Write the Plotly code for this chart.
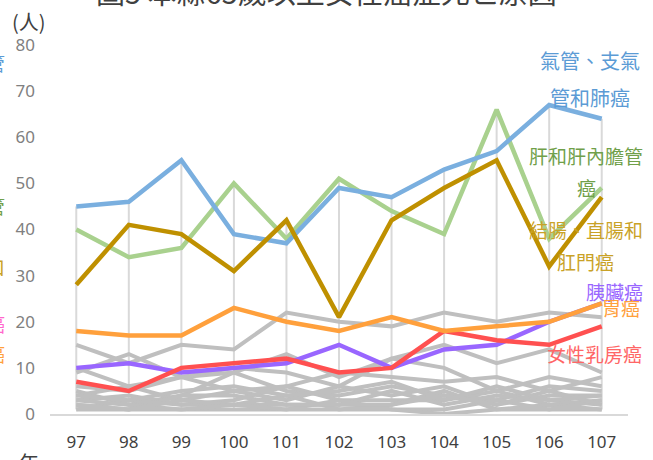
import plotly.graph_objects as go

years = [97, 98, 99, 100, 101, 102, 103, 104, 105, 106, 107]
year_labels = [str(y) for y in years]

lung = [45, 46, 55, 39, 37, 49, 47, 53, 57, 67, 64]
liver = [40, 34, 36, 50, 38, 51, 44, 39, 66, 38, 49]
colorectal = [28, 41, 39, 31, 42, 21, 42, 49, 55, 32, 47]
stomach = [18, 17, 17, 23, 20, 18, 21, 18, 19, 20, 24]
pancreas = [10, 11, 9, 10, 11, 15, 10, 14, 15, 20, 24]
breast = [7, 5, 10, 11, 12, 9, 10, 18, 16, 15, 19]

others = [
    [15, 11, 15, 14, 22, 20, 19, 22, 20, 22, 21],
    [9, 13, 8, 9, 13, 8, 12, 15, 11, 14, 9],
    [10, 6, 8, 10, 9, 6, 12, 10, 5, 8, 6],
    [6, 5, 8, 5, 6, 9, 8, 7, 8, 5, 8],
    [5, 2, 4, 9, 5, 4, 6, 4, 3, 6, 5],
    [4, 6, 3, 5, 3, 6, 4, 6, 2, 4, 4],
    [3, 4, 2, 3, 6, 3, 3, 3, 5, 2, 3],
    [2, 1, 4, 4, 2, 2, 5, 2, 4, 3, 2],
    [1, 3, 2, 2, 4, 1, 2, 5, 1, 2, 1],
    [3, 2, 1, 1, 1, 3, 1, 1, 3, 1, 3],
    [2, 1, 3, 2, 2, 2, 2, 4, 2, 5, 2],
    [1, 1, 1, 2, 1, 1, 1, 0, 1, 1, 1],
    [4, 3, 5, 6, 4, 5, 7, 3, 6, 3, 4],
]

title_text = "圖5 本縣65歲以上女性癌症死亡原因"
y_title = "(人)"
x_title = "年"

main = [
    ("胰臟癌", pancreas, "#9966FF"),
    ("女性乳房癌", breast, "#FF5050"),
    ("胃癌", stomach, "#FFA03C"),
    ("肝和肝內膽管癌", liver, "#A9D18E"),
    ("氣管、支氣管和肺癌", lung, "#7AAFDF"),
    ("結腸、直腸和肛門癌", colorectal, "#BF9000"),
]

W, H = 653, 460
ML, MR, MT, MB = 50, 25, 45, 46
PW = W - ML - MR
PH = H - MT - MB


def px(x):
    return (x - ML) / PW


def py(y):
    return (H - MB - y) / PH


fig = go.Figure()

# high-low (drop) lines across all series
all_series = others + [s for _, s, _ in main]
hx, hy = [], []
for i, yr in enumerate(years):
    vals = [s[i] for s in all_series]
    hx += [yr, yr, None]
    hy += [min(vals), max(vals), None]
fig.add_trace(go.Scatter(x=hx, y=hy, mode="lines", line=dict(color="#D9D9D9", width=2),
                         hoverinfo="skip", showlegend=False))

for s in others:
    fig.add_trace(go.Scatter(x=years, y=s, mode="lines", line=dict(color="#BFBFBF", width=4),
                             showlegend=False))

for name, s, c in main:
    fig.add_trace(go.Scatter(x=years, y=s, mode="lines", name=name, line=dict(color=c, width=4.5),
                             showlegend=False))

cjk = "Noto Sans CJK TC"
labels = [
    ("氣管、支氣", 590, 60, "#5B9BD5", 20),
    ("管和肺癌", 590, 97, "#5B9BD5", 20),
    ("肝和肝內膽管", 586, 155, "#70A04A", 19),
    ("癌", 586, 187, "#70A04A", 19),
    ("結腸、直腸和", 586, 229, "#C9A227", 19),
    ("肛門癌", 585, 261, "#C9A227", 19),
    ("胰臟癌", 614, 291, "#9966FF", 19),
    ("胃癌", 621, 307, "#FFA03C", 19),
    ("女性乳房癌", 594, 353, "#FF6666", 19),
]
for t, x, y, c, s in labels:
    fig.add_annotation(text=t, x=px(x), y=py(y), xref="paper", yref="paper", showarrow=False,
                       xanchor="center", yanchor="middle", font=dict(family=cjk, size=s, color=c))

# cut-off labels at left edge
left_frags = [
    ("管", 62, "#5B9BD5"),
    ("管", 205, "#70A04A"),
    ("口", 266, "#C9A227"),
    ("癌", 323, "#FF66CC"),
    ("癌", 353, "#FFA03C"),
]
for t, y, c in left_frags:
    fig.add_annotation(text=t, x=px(7), y=py(y), xref="paper", yref="paper", showarrow=False,
                       xanchor="right", yanchor="middle", font=dict(family=cjk, size=19, color=c))

fig.add_annotation(text=title_text, x=px(326), y=py(-9), xref="paper", yref="paper", showarrow=False,
                   xanchor="center", yanchor="middle", font=dict(family=cjk, size=29, color="#404040"))
fig.add_annotation(text=y_title, x=px(29), y=py(21), xref="paper", yref="paper", showarrow=False,
                   xanchor="center", yanchor="middle", font=dict(family=cjk, size=20, color="#404040"))
fig.add_annotation(text=x_title, x=px(29), y=py(462), xref="paper", yref="paper", showarrow=False,
                   xanchor="center", yanchor="middle", font=dict(family=cjk, size=20, color="#404040"))

fig.update_layout(
    width=W, height=H,
    margin=dict(l=ML, r=MR, t=MT, b=MB, pad=0, autoexpand=False),
    paper_bgcolor="white", plot_bgcolor="white",
    font=dict(family="Noto Sans", color="#595959"),
    xaxis=dict(range=[96.5, 107.5], tickmode="array", tickvals=years, ticktext=year_labels,
               showgrid=False, zeroline=False, showline=True, linecolor="#D9D9D9", linewidth=2,
               ticks="", tickfont=dict(size=17, color="#404040"), ticklabelstandoff=12,
               automargin=False),
    yaxis=dict(range=[0, 80], dtick=10, showgrid=False, zeroline=False, showline=False,
               ticks="", tickfont=dict(size=17, color="#808080"), ticklabelstandoff=14,
               automargin=False),
)

fig.write_html(
    "out.html",
    config={"displayModeBar": False},
    post_script="document.body.style.margin='0';document.body.style.overflow='hidden';",
)
